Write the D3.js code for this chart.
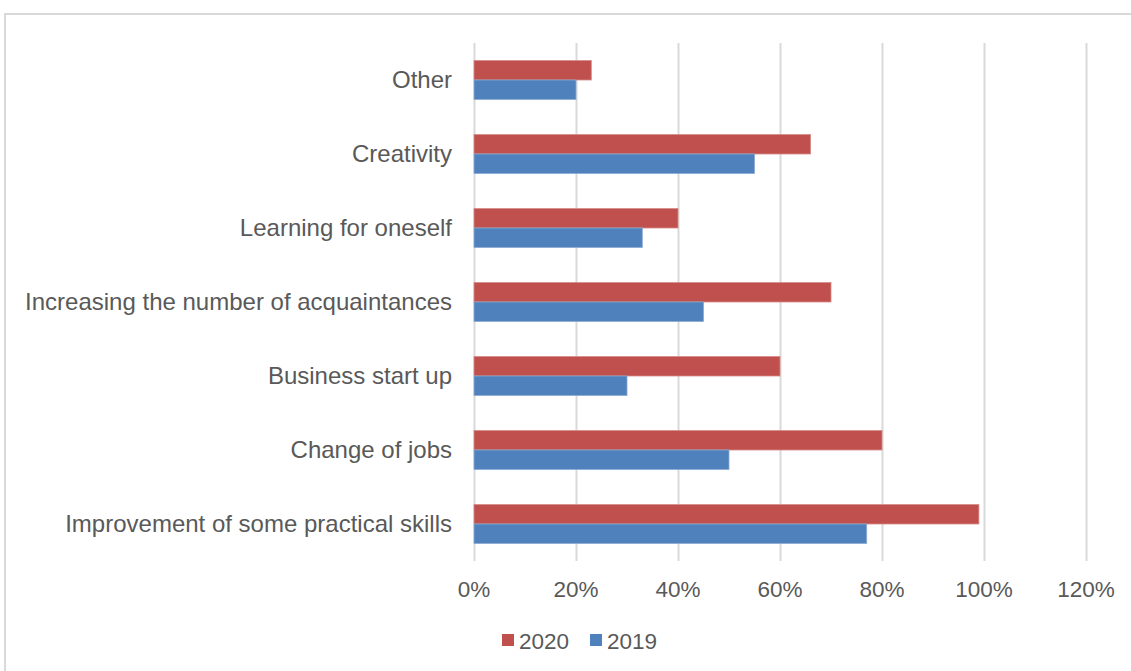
<!DOCTYPE html>
<html>
<head>
<meta charset="utf-8">
<script src="https://cdn.jsdelivr.net/npm/d3@7"></script>
<style>
  html, body { margin: 0; padding: 0; background: #fff; }
  svg { display: block; font-family: "Liberation Sans", Arial, sans-serif; }
  .tick-label, .cat-label, .legend-label { fill: #595959; }
</style>
</head>
<body>
<div id="chart"></div>
<script>
// categories from top to bottom
const categories = [
    "Other",
    "Creativity",
    "Learning for oneself ",
    "Increasing the number of acquaintances",
    "Business start up",
    "Change of jobs",
    "Improvement of some practical skills"
];
const seriesNames = ["2020", "2019"];
const values2020 = [0.23, 0.66, 0.40, 0.70, 0.60, 0.80, 0.99];
const values2019 = [0.20, 0.55, 0.33, 0.45, 0.30, 0.50, 0.77];
const xTicks = [0, 0.2, 0.4, 0.6, 0.8, 1.0, 1.2];

const colors = { "2020": "#C0504D", "2019": "#4F81BD" };
const strokes = { "2020": "#d58a88", "2019": "#8aaad3" };

const W = 1131, H = 671;
const plot = { left: 474, right: 1086, top: 43, bottom: 561 };

const svg = d3.select("#chart").append("svg")
    .attr("width", W)
    .attr("height", H);

// chart area border (runs off the right and bottom)
svg.append("rect")
    .attr("x", 5).attr("y", 14)
    .attr("width", W + 20).attr("height", H + 20)
    .attr("fill", "none")
    .attr("stroke", "#d9d9d9")
    .attr("stroke-width", 2);

const x = d3.scaleLinear().domain([0, 1.2]).range([plot.left, plot.right]);
const y = d3.scaleBand().domain(categories).range([plot.top, plot.bottom]).padding(0);

// bar thickness like excel gap width ~180%
const barH = y.bandwidth() / 3.8;
const y1 = d3.scaleBand().domain(seriesNames).range([0, barH * 2]);
const groupOffset = (y.bandwidth() - barH * 2) / 2;

// gridlines
svg.append("g")
    .selectAll("line")
    .data(xTicks)
    .join("line")
    .attr("x1", d => Math.round(x(d)) + 0.5)
    .attr("x2", d => Math.round(x(d)) + 0.5)
    .attr("y1", plot.top)
    .attr("y2", plot.bottom)
    .attr("stroke", "#d9d9d9")
    .attr("stroke-width", 2);

const rows = categories.map((c, i) => ({ cat: c, "2020": values2020[i], "2019": values2019[i] }));

// bars
const groups = svg.append("g")
    .selectAll("g")
    .data(rows)
    .join("g")
    .attr("transform", d => `translate(0, ${y(d.cat) + groupOffset})`);

groups.selectAll("rect")
    .data(d => seriesNames.map(s => ({ s, v: d[s] })))
    .join("rect")
    .attr("x", x(0))
    .attr("y", d => y1(d.s))
    .attr("width", d => x(d.v) - x(0))
    .attr("height", y1.bandwidth())
    .attr("fill", d => colors[d.s])
    .attr("stroke", d => strokes[d.s])
    .attr("stroke-width", 0.8);

// category labels
svg.append("g")
    .selectAll("text")
    .data(categories)
    .join("text")
    .attr("class", "cat-label")
    .attr("x", plot.left - 22)
    .attr("y", d => y(d) + y.bandwidth() / 2)
    .attr("dy", "0.35em")
    .attr("text-anchor", "end")
    .style("font-size", "24px")
    .text(d => d);

// x axis tick labels
svg.append("g")
    .selectAll("text")
    .data(xTicks)
    .join("text")
    .attr("class", "tick-label")
    .attr("x", d => x(d))
    .attr("y", 597)
    .attr("text-anchor", "middle")
    .style("font-size", "22.5px")
    .text(d => d3.format(".0%")(d));

// legend
const legend = svg.append("g").attr("transform", "translate(502, 634)");
const legendX = [0, 88];
seriesNames.forEach((s, i) => {
    legend.append("rect")
        .attr("x", legendX[i])
        .attr("y", 0)
        .attr("width", 12)
        .attr("height", 12)
        .attr("fill", colors[s]);
    legend.append("text")
        .attr("class", "legend-label")
        .attr("x", legendX[i] + 17)
        .attr("y", 15)
        .style("font-size", "22.5px")
        .text(s);
});
</script>
</body>
</html>
